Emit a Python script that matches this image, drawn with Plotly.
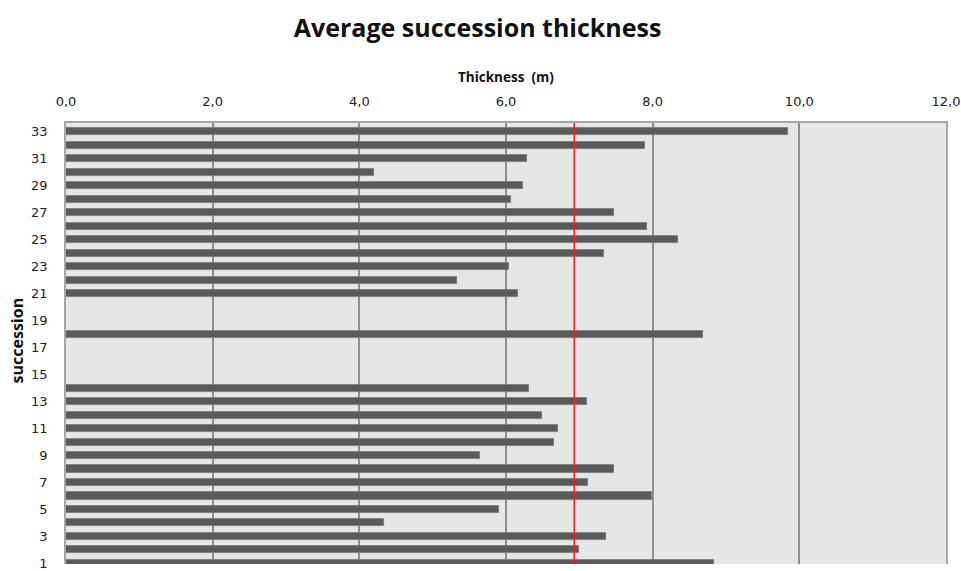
import plotly.graph_objects as go

# Average thickness (m) per succession; None where no value was recorded
successions = list(range(1, 34))
thickness = [
    8.84, 7.00, 7.36, 4.34, 5.90, 7.99, 7.12, 7.47, 5.65, 6.66,
    6.71, 6.49, 7.10, 6.32, None, None, None, 8.68, None, None,
    6.16, 5.33, 6.04, 7.34, 8.35, 7.92, 7.47, 6.07, 6.23, 4.20,
    6.28, 7.90, 9.85,
]
mean_thickness = 6.93

x_ticks = [0, 2, 4, 6, 8, 10, 12]
y_ticks = list(range(1, 34, 2))

FONT = "DejaVu Sans"
TITLE_FONT = "Open Sans"

fig = go.Figure()
fig.add_trace(go.Bar(
    x=thickness,
    y=successions,
    orientation="h",
    width=0.52,
    marker=dict(color="#5a5a5a", line=dict(color="#7a7a7a", width=0.8)),
    showlegend=False,
))

# reference line at the mean thickness
fig.add_shape(type="line", xref="x", yref="paper",
              x0=mean_thickness, x1=mean_thickness, y0=0, y1=1,
              line=dict(color="#ff1a1a", width=1.5), layer="above")

fig.update_layout(
    width=961, height=571,
    margin=dict(l=66, r=15, t=123, b=0),
    paper_bgcolor="white",
    plot_bgcolor="#e6e6e6",
    separators=",.",
    bargap=0,
    font=dict(family=FONT, size=13, color="#222222"),
    title=dict(text="<b>Average succession thickness</b>",
               x=0.497, xanchor="center", y=0.95, yanchor="middle",
               font=dict(family=TITLE_FONT, size=25, color="#111111")),
    xaxis=dict(
        side="top", range=[0, 12], tickvals=x_ticks, tickformat=".1f",
        showgrid=True, gridcolor="#8f8f8f", gridwidth=1.5,
        zeroline=False, showline=True, linecolor="#a6a6a6", linewidth=1.5,
        mirror=False, ticks="", ticklabelstandoff=10,
        ticklabeloverflow="allow",
        tickfont=dict(family=FONT, size=13, color="#222222"),
    ),
    yaxis=dict(
        range=[0.96, 33.64], tickvals=y_ticks,
        showgrid=False, zeroline=False, showline=True,
        linecolor="#a6a6a6", linewidth=1.5, mirror=True, ticks="",
        ticklabelstandoff=14, ticklabeloverflow="allow",
        tickfont=dict(family=FONT, size=13, color="#222222"),
    ),
    annotations=[
        dict(text="<b>Thickness  (m)</b>", xref="paper", yref="paper",
             x=0.5, y=1, yshift=46, xanchor="center", yanchor="middle",
             showarrow=False, font=dict(family=TITLE_FONT, size=13.5, color="#111111")),
        dict(text="<b>succession</b>", xref="paper", yref="paper",
             x=0, xshift=-49, y=0.507, xanchor="center", yanchor="middle",
             textangle=-90, showarrow=False,
             font=dict(family=TITLE_FONT, size=16, color="#111111")),
    ],
)

fig.write_html("out.html")
